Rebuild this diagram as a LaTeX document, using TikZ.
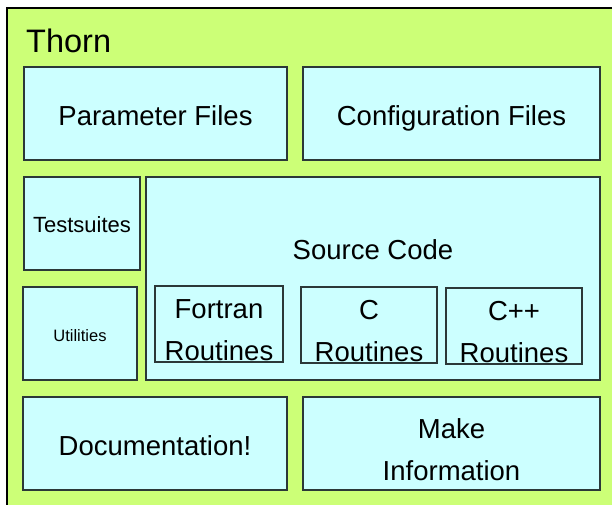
\documentclass[tikz,border=0pt]{standalone}
\usepackage{fontspec}
\setmainfont{Liberation Sans}
\definecolor{thorngreen}{HTML}{CCFF77}
\definecolor{partcyan}{HTML}{CCFFFF}
\definecolor{partedge}{HTML}{2B3838}

\begin{document}
\begin{tikzpicture}[
  x=1pt,
  y=-1pt,
  every node/.style={font=\fontsize{27.5}{42}\selectfont, black},
  outer/.style={draw=black, fill=thorngreen, line width=1.3pt},
  part/.style={draw=partedge, fill=partcyan, line width=1.3pt, inner sep=0pt,
    align=center, text height=26.1pt, text depth=1.4pt},
  twoline/.style={text height=73pt, text depth=1pt},
  routine/.style={part, twoline, minimum width=#1, minimum height=76pt}
]
\useasboundingbox[fill=white] (0,0) rectangle (612,505);
\clip (0,0) rectangle (612,505);

% =====================================================================
% the thorn itself
% =====================================================================
\draw[outer] (7,8) rectangle (625,520);
\node[anchor=base west, inner sep=0pt, font=\fontsize{32.5}{40}\selectfont]
  (thorn) at (26,53) {Thorn};

% =====================================================================
% top row: parameter and configuration files
% =====================================================================
\node[part, minimum width=263pt, minimum height=93pt] (param) at (155.5,113.5)
  {Parameter Files};
\node[part, minimum width=297pt, minimum height=93pt] (config) at (451.5,113.5)
  {Configuration Files};

% =====================================================================
% middle row: testsuites, utilities and the source code
% =====================================================================
\node[part, minimum width=116pt, minimum height=93pt, text height=20pt,
  text depth=1.2pt, font=\fontsize{22}{28}\selectfont] (tests) at (82,223.5)
  {Testsuites};
\node[part, minimum width=114pt, minimum height=93pt, text height=16.5pt,
  text depth=0.7pt, font=\fontsize{16.5}{20}\selectfont] (utils) at (80,333.5)
  {Utilities};

\node[part, minimum width=454pt, minimum height=203pt] (source) at (373,278.5) {};
\node (srclabel) at (373,249.5) {Source Code};

\node[routine=128pt] (fortran) at (219,324) {Fortran\\Routines};
\node[routine=136pt] (clang) at (369,325) {C\\Routines};
\node[routine=136pt] (cpp) at (514,326) {C++\\Routines};

% =====================================================================
% bottom row: documentation and make information
% =====================================================================
\node[part, minimum width=264pt, minimum height=93pt] (docs) at (155,443.5)
  {Documentation!};
\node[part, twoline, minimum width=297pt, minimum height=93pt, text height=74pt]
  (make) at (451.5,443.5) {Make\\Information};

\end{tikzpicture}
\end{document}
